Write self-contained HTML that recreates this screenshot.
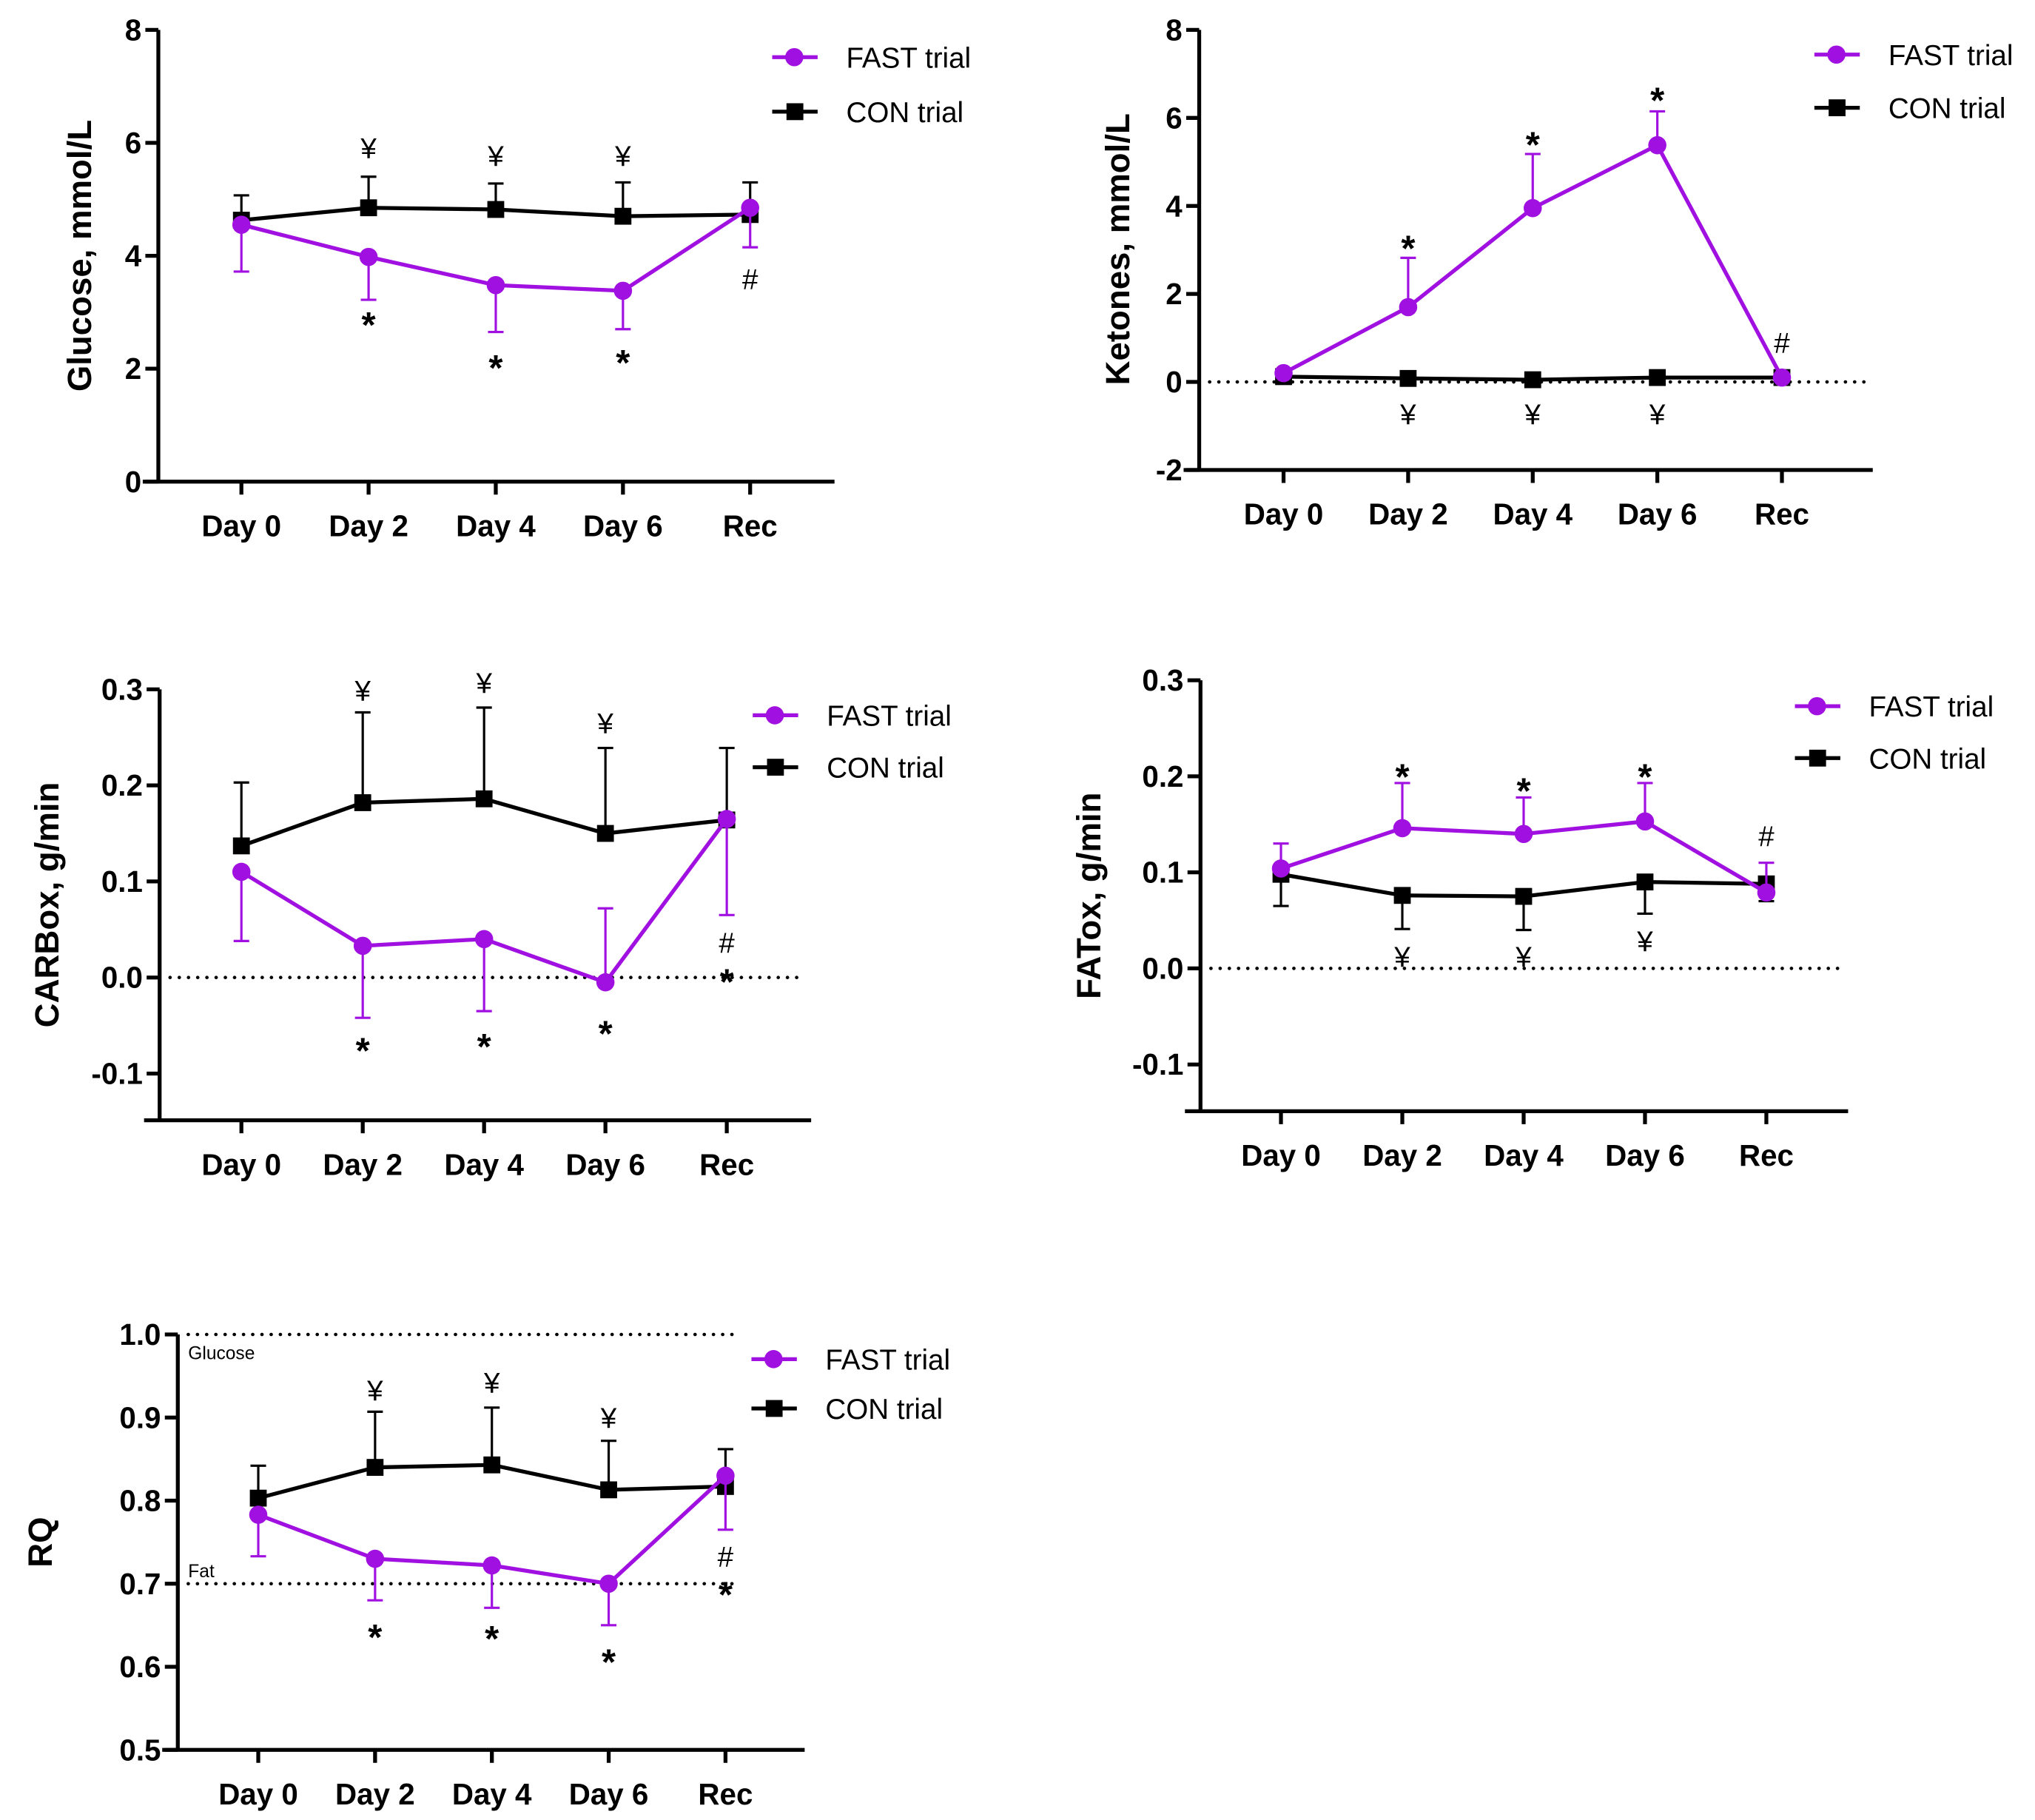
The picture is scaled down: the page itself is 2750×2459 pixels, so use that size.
<!DOCTYPE html>
<html><head><meta charset="utf-8"><style>
html,body{margin:0;padding:0;background:#fff}
svg{display:block}
text{font-family:"Liberation Sans",sans-serif}
</style></head><body>
<svg id="fig" width="2750" height="2459" viewBox="0 0 1568 1402" xmlns="http://www.w3.org/2000/svg"></svg>
<script>
const categories=["Day 0","Day 2","Day 4","Day 6","Rec"];
// Glucose
const gluFast=[4.55,3.98,3.48,3.38,4.85];
const gluFastErr=[3.72,3.22,2.65,2.70,4.15];
const gluCon=[4.63,4.85,4.82,4.70,4.73];
const gluConErr=[5.07,5.40,5.28,5.30,5.30];
const gluTicks=[0,2,4,6,8];
// Ketones
const ketFast=[0.2,1.7,3.95,5.38,0.1];
const ketFastErr=[0.2,2.82,5.18,6.15,0.1];
const ketCon=[0.12,0.08,0.05,0.1,0.1];
const ketConErr=[0.12,0.08,0.05,0.1,0.1];
const ketTicks=[-2,0,2,4,6,8];
// CARBox
const carFast=[0.11,0.033,0.04,-0.005,0.165];
const carFastErr=[0.038,-0.042,-0.035,0.072,0.065];
const carCon=[0.137,0.182,0.186,0.15,0.164];
const carConErr=[0.203,0.276,0.281,0.239,0.239];
const carTicks=[-0.1,0.0,0.1,0.2,0.3];
// FATox
const fatFast=[0.104,0.146,0.14,0.153,0.079];
const fatFastErr=[0.13,0.193,0.178,0.193,0.11];
const fatCon=[0.098,0.076,0.075,0.09,0.088];
const fatConErr=[0.065,0.041,0.04,0.057,0.07];
const fatTicks=[-0.1,0.0,0.1,0.2,0.3];
// RQ
const rqFast=[0.783,0.73,0.722,0.70,0.83];
const rqFastErr=[0.733,0.68,0.671,0.65,0.765];
const rqCon=[0.803,0.84,0.843,0.813,0.817];
const rqConErr=[0.842,0.907,0.912,0.872,0.862];
const rqTicks=[0.5,0.6,0.7,0.8,0.9,1.0];

const NS="http://www.w3.org/2000/svg";
const svg=document.getElementById('fig');
const PURPLE="#a010e0";
function mk(tag,attrs,parent,txt){const e=document.createElementNS(NS,tag);for(const k in attrs)e.setAttribute(k,attrs[k]);if(txt!==undefined)e.textContent=txt;(parent||svg).appendChild(e);return e;}

function panel(p){
  const g=mk('g',{});
  
  
  const y=v=>p.y0+(v-p.v0)*(p.y1-p.y0)/(p.v1-p.v0);
  const x=i=>p.xs[0]+i*(p.xs[1]-p.xs[0]);
  (p.refs||[]).forEach(r=>{const l=mk('line',{x1:r.x1,x2:r.x2,y1:y(r.v),y2:y(r.v),stroke:'#000','stroke-width':2.6,'stroke-dasharray':'0.1 7','stroke-linecap':'round'},g);
    
    });
  const ya=mk('line',{x1:p.ax,x2:p.ax,y1:p.top,y2:p.bot,stroke:'#000','stroke-width':3},g);
  
  
  const xa=mk('line',{x1:p.ax-12,x2:p.xe,y1:p.bot,y2:p.bot,stroke:'#000','stroke-width':3},g);
  
  
  p.ticks.forEach(t=>{
    mk('line',{x1:p.ax-10,x2:p.ax,y1:y(t),y2:y(t),stroke:'#000','stroke-width':3},g);
    const tl=mk('text',{x:p.ax-13,y:y(t)+8,'text-anchor':'end','font-size':23,'font-weight':'bold'},g,p.fmt(t));
    
    
  });
  categories.forEach((c,i)=>{
    mk('line',{x1:x(i),x2:x(i),y1:p.bot,y2:p.bot+10,stroke:'#000','stroke-width':3},g);
    const tl=mk('text',{x:x(i),y:p.bot+42,'text-anchor':'middle','font-size':23,'font-weight':'bold'},g,c);
    
    
  });
  const tt=mk('text',{transform:`translate(${p.tx},${p.ty}) rotate(-90)`,'text-anchor':'middle','font-size':26,'font-weight':'bold'},g,p.title);
  
  
  function series(vals,errs,color,shape,nm){
    vals.forEach((v,i)=>{const e=errs[i];if(Math.abs(e-v)<1e-9)return;
      mk('line',{x1:x(i),x2:x(i),y1:y(v),y2:y(e),stroke:color,'stroke-width':1.8},g);
      const cap=mk('line',{x1:x(i)-6,x2:x(i)+6,y1:y(e),y2:y(e),stroke:color,'stroke-width':1.8},g);
      
      });
    const pl=mk('polyline',{points:vals.map((v,i)=>x(i)+','+y(v)).join(' '),fill:'none',stroke:color,'stroke-width':3},g);
    
    
    vals.forEach((v,i)=>{let m;
      if(shape==='c')m=mk('circle',{cx:x(i),cy:y(v),r:7,fill:color},g);
      else m=mk('rect',{x:x(i)-6.5,y:y(v)-6.5,width:13,height:13,fill:color},g);
      
      });
  }
  series(p.con,p.conErr,'#000','s','con');
  series(p.fast,p.fastErr,PURPLE,'c','fast');
  p.ann.forEach(a=>{const st=a[1]==='*';const t=mk('text',{x:x(a[0]),y:a[2]+(st?4:0),'text-anchor':'middle','font-size':st?28:22,'font-weight':st?'bold':'normal'},g,a[1]);
    
    });
  const L=p.leg;
  const lf=mk('g',{},g);
  
  
  mk('line',{x1:L[0],x2:L[0]+35,y1:L[1],y2:L[1],stroke:PURPLE,'stroke-width':3},lf);
  mk('circle',{cx:L[0]+17,cy:L[1],r:7,fill:PURPLE},lf);
  mk('text',{x:L[0]+57,y:L[1]+8,'font-size':22},lf,'FAST trial');
  const lc=mk('g',{},g);
  
  
  mk('line',{x1:L[0],x2:L[0]+35,y1:L[2],y2:L[2],stroke:'#000','stroke-width':3},lc);
  mk('rect',{x:L[0]+11,y:L[2]-6.5,width:13,height:13,fill:'#000'},lc);
  mk('text',{x:L[0]+57,y:L[2]+8,'font-size':22},lc,'CON trial');
  return {g,y};
}
const f0=t=>String(t), f1=t=>t.toFixed(1);
panel({name:'glucose-chart',v0:0,v1:8,y0:371,y1:23,top:23,bot:371,ax:122,xe:643,xs:[186,284],ticks:gluTicks,fmt:f0,
  title:'Glucose, mmol/L',tx:70,ty:197,fast:gluFast,fastErr:gluFastErr,con:gluCon,conErr:gluConErr,leg:[595,44,86],
  ann:[[1,'¥',122],[2,'¥',128],[3,'¥',128],[1,'*',256],[2,'*',289],[3,'*',285],[4,'#',223]]});
panel({name:'ketones-chart',v0:-2,v1:8,y0:362,y1:23,top:23,bot:362,ax:924,xe:1443,xs:[989,1085],ticks:ketTicks,fmt:f0,
  title:'Ketones, mmol/L',tx:870,ty:192,fast:ketFast,fastErr:ketFastErr,con:ketCon,conErr:ketConErr,leg:[1398,42,83],
  refs:[{v:0,x1:932,x2:1440}],
  ann:[[1,'¥',327],[2,'¥',327],[3,'¥',327],[1,'*',197],[2,'*',117],[3,'*',83],[4,'#',272]]});
panel({name:'carbox-chart',v0:-0.1,v1:0.3,y0:827,y1:531,top:531,bot:863,ax:123,xe:625,xs:[186,279.5],ticks:carTicks,fmt:f1,
  title:'CARBox, g/min',tx:45,ty:697,fast:carFast,fastErr:carFastErr,con:carCon,conErr:carConErr,leg:[580,551,591],
  refs:[{v:0,x1:131,x2:620}],
  ann:[[1,'¥',540],[2,'¥',534],[3,'¥',565],[1,'*',815],[2,'*',812],[3,'*',802],[4,'#',734],[4,'*',762]]});
panel({name:'fatox-chart',v0:-0.1,v1:0.3,y0:820,y1:524,top:524,bot:856,ax:925,xe:1424,xs:[987,1080.5],ticks:fatTicks,fmt:f1,
  title:'FATox, g/min',tx:848,ty:690,fast:fatFast,fastErr:fatFastErr,con:fatCon,conErr:fatConErr,leg:[1383,544,584],
  refs:[{v:0,x1:933,x2:1420}],
  ann:[[1,'¥',745],[2,'¥',745],[3,'¥',733],[1,'*',604],[2,'*',615],[3,'*',604],[4,'#',652]]});
const rq=panel({name:'rq-chart',v0:0.5,v1:1.0,y0:1348,y1:1028,top:1028,bot:1348,ax:137,xe:620,xs:[199,289],ticks:rqTicks,fmt:f1,
  title:'RQ',tx:40,ty:1188,fast:rqFast,fastErr:rqFastErr,con:rqCon,conErr:rqConErr,leg:[579,1047,1085],
  refs:[{v:1.0,x1:145,x2:565},{v:0.7,x1:145,x2:565}],
  ann:[[1,'¥',1079],[2,'¥',1073],[3,'¥',1100],[1,'*',1267],[2,'*',1268],[3,'*',1286],[4,'#',1207],[4,'*',1234]]});
const gl=mk('text',{x:145,y:1047,'font-size':14},rq.g,'Glucose');


const ft=mk('text',{x:145,y:1215,'font-size':14},rq.g,'Fat');


</script>
</body></html>
